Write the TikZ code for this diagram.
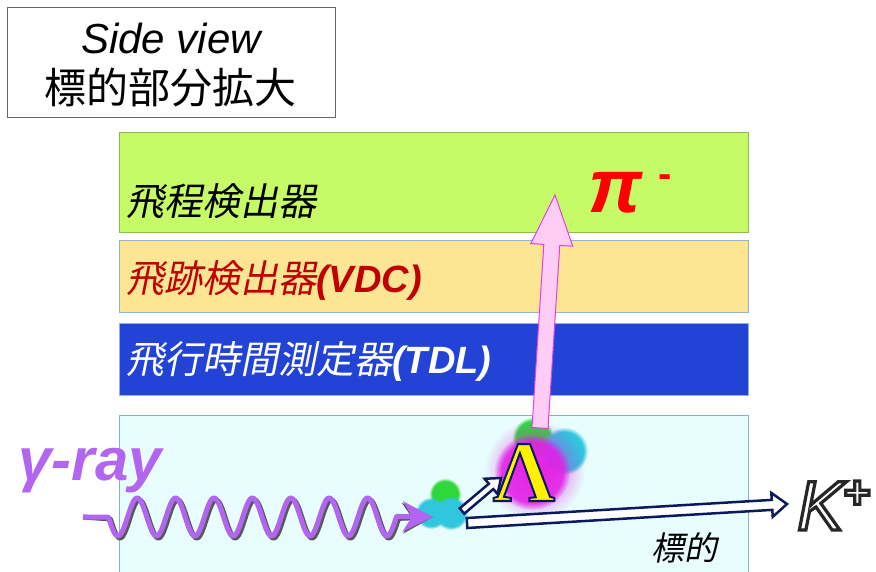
\documentclass[tikz,border=0pt]{standalone}
\usepackage{fontspec}
\setmainfont{Liberation Sans}
\newfontfamily\jpfont{Noto Sans CJK JP}
\newfontfamily\jpslant[FakeSlant=0.2]{Noto Sans CJK JP}
\newfontfamily\lamfont{Liberation Serif}
\usetikzlibrary{calc,fadings,arrows.meta}

\definecolor{rangefill}{HTML}{C6FA66}
\definecolor{rangeedge}{HTML}{8CBA4E}
\definecolor{vdcfill}{HTML}{FCE693}
\definecolor{vdcedge}{HTML}{93B4C4}
\definecolor{vdcred}{HTML}{C00000}
\definecolor{tdlfill}{HTML}{2343D6}
\definecolor{tdledge}{HTML}{8FB4D8}
\definecolor{tgtfill}{HTML}{E8FDFD}
\definecolor{tgtedge}{HTML}{7DB6C8}
\definecolor{photon}{HTML}{B266F0}
\definecolor{navy}{HTML}{0B1A5E}
\definecolor{pinkfill}{HTML}{FFCCF6}
\definecolor{pinkedge}{HTML}{E040E0}
\definecolor{ballcyan}{HTML}{30C6DE}
\definecolor{ballgreen}{HTML}{2FD83A}
\definecolor{ballmag}{HTML}{E41EE6}

\tikzfading[name=glow, inner color=transparent!0, outer color=transparent!100]

% fill + stroke text: {line width}{stroke rgb}{text}
\newcommand\outlined[3]{\special{pdf:literal direct 2 Tr #1 w #2 RG}#3\special{pdf:literal direct 0 Tr}}

% block arrow: [style]{from}{to}{half shaft}{half head}{head length}
\newcommand\fatarrow[6][]{%
  \coordinate (fa-base) at ($(#3)!#6!(#2)$);
  \filldraw[#1] ($(#2)!#4!90:(#3)$) -- ($(fa-base)!#4!90:(#3)$)
    -- ($(fa-base)!#5!90:(#3)$) -- (#3) -- ($(fa-base)!#5!-90:(#3)$)
    -- ($(fa-base)!#4!-90:(#3)$) -- ($(#2)!#4!-90:(#3)$) -- cycle;}

\tikzset{
  layer/.style={line width=1pt},
  jp/.style={font=\jpslant\fontsize{38}{38}\selectfont, anchor=west, inner sep=0pt},
  fatline/.style={draw=navy, fill=white, line width=2.5pt, line join=miter},
  pion/.style={draw=pinkedge, fill=pinkfill, line width=1pt},
  ball/.style={path fading=circle with fuzzy edge 20 percent},
  wave/.style={line width=5pt, line join=round,
    -{Stealth[length=30pt,width=30pt,inset=9pt]}},
  ktext/.style={font=\fontsize{70}{70}\selectfont\itshape, anchor=base west, inner sep=0pt},
  lamtext/.style={font=\lamfont\bfseries\fontsize{86}{86}\selectfont, anchor=base, inner sep=0pt},
}

\begin{document}
\begin{tikzpicture}[x=1pt,y=-1pt]
\useasboundingbox (0,0) rectangle (876,572);

\draw[gray!80!black, line width=1pt] (7,8) rectangle (335,118);
\node (side) at (171,39) {\fontsize{42}{42}\selectfont\itshape Side view};
\node (zoomed) at (171,88) {\jpfont\fontsize{42}{42}\selectfont 標的部分拡大};

\filldraw[layer, fill=rangefill, draw=rangeedge] (119,133) rectangle (748,233);
\filldraw[layer, fill=vdcfill, draw=vdcedge] (119,241) rectangle (748,312);
\filldraw[layer, fill=tdlfill, draw=tdledge] (119,323) rectangle (748,395);
\filldraw[layer, fill=tgtfill, draw=tgtedge] (119,415) rectangle (748,590);

\node[jp] (range) at (126,201) {飛程検出器};
\node[jp, text=vdcred] (vdc) at (126,280) {飛跡検出器{\normalfont\bfseries\itshape(VDC)}};
\node[jp, text=white] (tdl) at (126,361) {飛行時間測定器{\normalfont\bfseries\itshape(TDL)}};
\node[jp, font=\jpslant\fontsize{33}{33}\selectfont] (target) at (651,548) {標的};

% reaction point and Lambda decay
\fill[ballgreen, ball] (445,494) circle (16);
\fill[ballcyan, ball] (431,513) circle (16);
\fill[ballcyan, ball] (451,513) circle (17);
\fill[ballgreen, ball] (533,438) circle (21);
\fill[ballcyan, ball] (564,451) circle (24);
\fill[ballmag, opacity=0.9, path fading=glow] (535,470) circle (50);
\fill[ballmag, opacity=0.85, ball] (532,472) circle (38);

\coordinate (gamma0) at (83,517);
\coordinate (vertex) at (433,517);
\draw[wave, gray!70!black, shift={(2,2)}] (gamma0) -- (108.4,517)
  -- plot[domain=108.4:396.6, samples=300] (\x, {517+19*sin(9.375*(\x-108.4))}) -- (vertex);
\draw[wave, photon] (gamma0) -- (108.4,517)
  -- plot[domain=108.4:396.6, samples=300] (\x, {517+19*sin(9.375*(\x-108.4))}) -- (vertex);

\node[font=\fontsize{60}{60}\selectfont\bfseries\itshape, anchor=base west, text=photon] (gamma) at (15,480) {γ-ray};

\coordinate (lam0) at (462,511);
\coordinate (lam1) at (501,478);
\coordinate (kaon0) at (467,523);
\coordinate (kaon1) at (787,504);
\fatarrow[fatline]{lam0}{lam1}{3.5pt}{10pt}{13pt}
\fatarrow[fatline]{kaon0}{kaon1}{5pt}{12pt}{15pt}

\coordinate (pi0) at (540,428);
\coordinate (pi1) at (555,195);
\fatarrow[pion]{pi0}{pi1}{8pt}{21pt}{50pt}

\node[lamtext, text=yellow] (lambda) at (524,501) {\outlined{2}{0.04 0.1 0.37}{Λ}};

\node[font=\fontsize{76}{76}\selectfont\bfseries\itshape, anchor=base west, text=red] (pion) at (585,213) {π};
\node[font=\fontsize{40}{40}\selectfont\bfseries, anchor=base, text=red] (pionm) at (665,188) {-};

\node[ktext, text=white] (kaon) at (797,530) {\outlined{3.2}{0.15 0.15 0.15}{K{\upshape\bfseries\fontsize{46}{46}\selectfont\raisebox{22pt}{+}}}};
\end{tikzpicture}
\end{document}
